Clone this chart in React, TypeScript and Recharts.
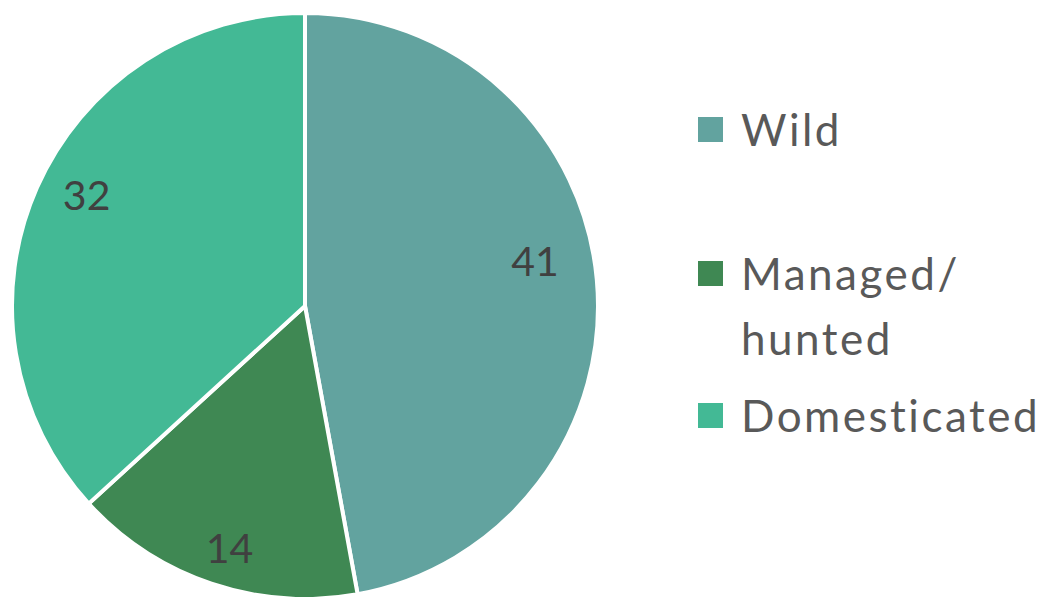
import React from "react";
import { PieChart, Pie, Cell, Legend } from "recharts";

const categories = ["Wild", "Managed/ hunted", "Domesticated"];
const counts = [41, 14, 32];
const colors = ["#62A39F", "#3F8853", "#43B995"];

const data = categories.map((name, i) => ({ name, value: counts[i] }));

const RAD = Math.PI / 180;

// small nudges so labels sit where Excel's "best fit" put them
const labelNudge = [
  { dx: -12, dy: -24 },
  { dx: 2, dy: 11 },
  { dx: 4, dy: -13 },
];

const renderLabel = (props: any) => {
  const { cx, cy, midAngle, value, index } = props;
  const r = 243;
  const x = cx + r * Math.cos(-midAngle * RAD) + labelNudge[index].dx;
  const y = cy + r * Math.sin(-midAngle * RAD) + labelNudge[index].dy;
  return (
    <text
      x={x}
      y={y}
      fill="#404040"
      fontSize={41}
      fontFamily="Lato, sans-serif"
      textAnchor="middle"
      dominantBaseline="central"
    >
      {value}
    </text>
  );
};

// gaps between legend entries
const entryGaps = [0, 79, 12];

const renderLegend = () => (
  <ul style={{ listStyle: "none", margin: 0, padding: 0 }}>
    {categories.map((name, i) => (
      <li
        key={name}
        style={{ display: "flex", alignItems: "flex-start", marginTop: entryGaps[i] }}
      >
        <span
          style={{
            width: 25,
            height: 25,
            background: colors[i],
            marginTop: 20,
            marginRight: 18,
            flexShrink: 0,
          }}
        />
        <span
          style={{
            color: "#595959",
            fontSize: 44,
            lineHeight: "65px",
            letterSpacing: 2.5,
            fontFamily: "Lato, sans-serif",
            width: 300,
          }}
        >
          {name.split(" ").map((w, k) => (
            <div key={k}>{w}</div>
          ))}
        </span>
      </li>
    ))}
  </ul>
);

export default function App() {
  return (
    <div style={{ position: "absolute", left: 0, top: 0, width: 1048, height: 597, background: "#fff" }}>
      <PieChart width={1048} height={597} margin={{ top: 0, right: 0, bottom: 0, left: 0 }}>
        <Pie
          data={data}
          dataKey="value"
          nameKey="name"
          cx={305}
          cy={306}
          outerRadius={293}
          startAngle={90}
          endAngle={-270}
          stroke="#fff"
          strokeWidth={4}
          label={renderLabel}
          labelLine={false}
          isAnimationActive={false}
        >
          {data.map((d, i) => (
            <Cell key={d.name} fill={colors[i]} />
          ))}
        </Pie>
        <Legend
          layout="vertical"
          content={renderLegend}
          wrapperStyle={{ left: 698, top: 97, width: 345 }}
        />
      </PieChart>
    </div>
  );
}
